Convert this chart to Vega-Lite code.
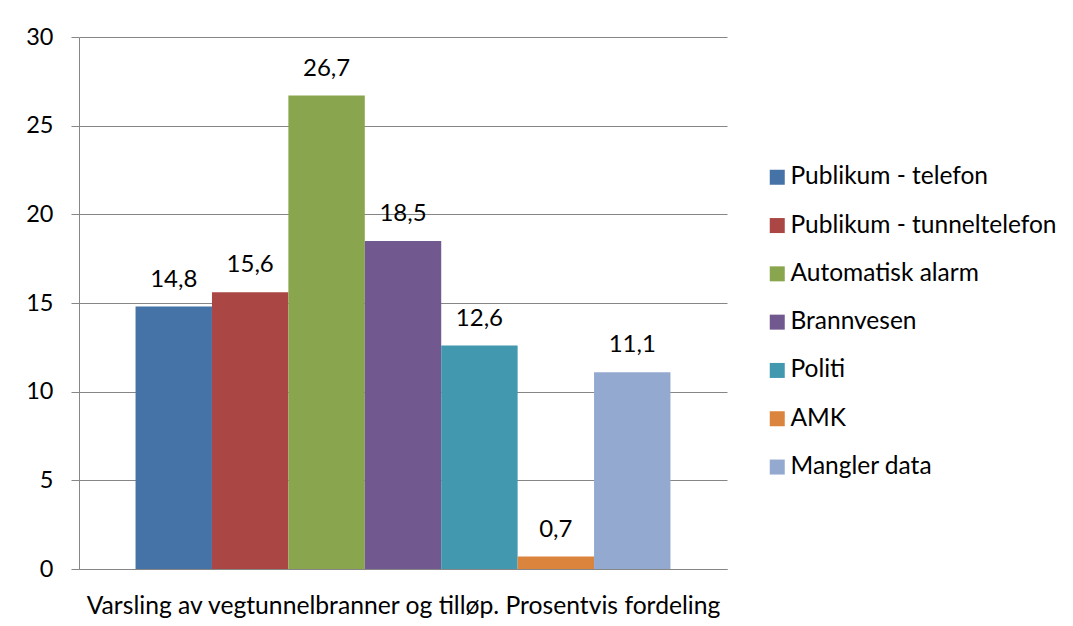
{
  "$schema": "https://vega.github.io/schema/vega-lite/v6.json",
  "autosize": "none",
  "width": 648,
  "height": 532,
  "padding": {"left": 79, "top": 37, "right": 346, "bottom": 57},
  "background": "white",
  "config": {
    "font": "Lato",
    "view": {"stroke": null},
    "locale": {"number": {"decimal": ",", "thousands": " ", "grouping": [3], "currency": ["", " kr"]}}
  },
  "data": {
    "values": [
      {"kilde": "Publikum - telefon", "andel": 14.8},
      {"kilde": "Publikum - tunneltelefon", "andel": 15.6},
      {"kilde": "Automatisk alarm", "andel": 26.7},
      {"kilde": "Brannvesen", "andel": 18.5},
      {"kilde": "Politi", "andel": 12.6},
      {"kilde": "AMK", "andel": 0.7},
      {"kilde": "Mangler data", "andel": 11.1}
    ]
  },
  "encoding": {
    "x": {
      "field": "kilde",
      "type": "nominal",
      "sort": null,
      "scale": {"paddingInner": 0, "paddingOuter": 0.74},
      "axis": {
        "title": "Varsling av vegtunnelbranner og tilløp. Prosentvis fordeling",
        "labels": false,
        "ticks": false,
        "domainColor": "#868686",
        "titleFontSize": 24.7,
        "titleFontWeight": "normal",
        "titleColor": "black",
        "titlePadding": 24
      }
    },
    "y": {
      "field": "andel",
      "type": "quantitative",
      "scale": {"domain": [0, 30], "nice": false},
      "axis": {
        "title": null,
        "values": [0, 5, 10, 15, 20, 25, 30],
        "format": "d",
        "grid": true,
        "gridColor": "#868686",
        "domainColor": "#868686",
        "tickColor": "#868686",
        "tickSize": 8,
        "labelPadding": 18,
        "labelFontSize": 23.5,
        "labelColor": "black"
      }
    }
  },
  "layer": [
    {
      "mark": {"type": "bar"},
      "encoding": {
        "color": {
          "field": "kilde",
          "type": "nominal",
          "sort": null,
          "scale": {"range": ["#4572A7", "#AA4643", "#89A54E", "#71588F", "#4198AF", "#DB843D", "#93A9CF"]},
          "legend": {
            "title": null,
            "orient": "none",
            "legendX": 686,
            "legendY": 128,
            "symbolType": "square",
            "symbolSize": 225,
            "symbolStrokeWidth": 0,
            "symbolOpacity": 1,
            "labelFontSize": 24.5,
            "labelColor": "black",
            "labelOffset": 1,
            "labelLimit": 400,
            "rowPadding": 23.3
          }
        }
      }
    },
    {
      "mark": {"type": "text", "dy": -27, "fontSize": 24, "color": "black"},
      "encoding": {
        "text": {"field": "andel", "type": "quantitative", "format": ".1f"}
      }
    }
  ]
}
